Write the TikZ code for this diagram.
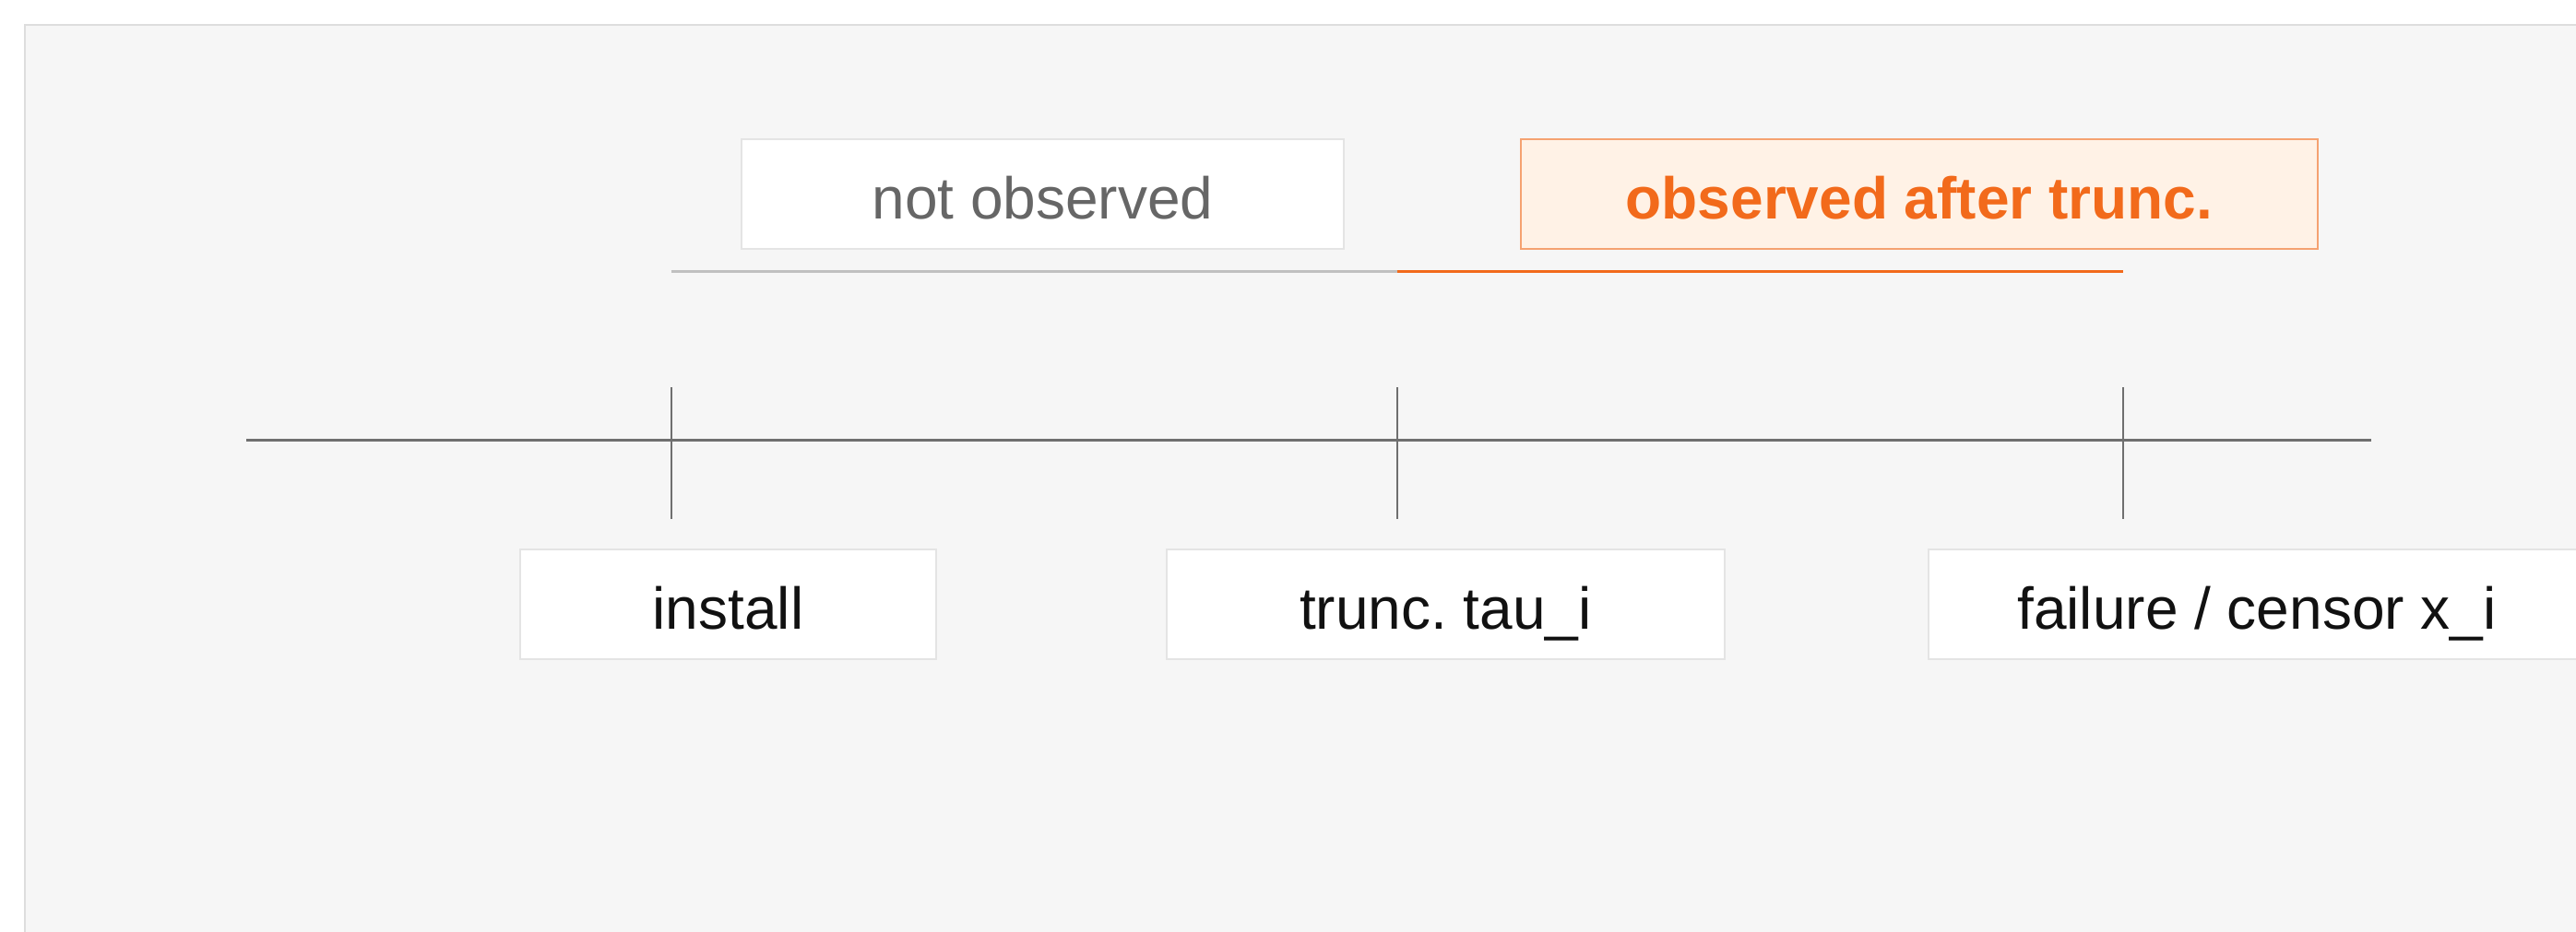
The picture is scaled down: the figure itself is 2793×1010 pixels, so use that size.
\documentclass[tikz,border=0pt]{standalone}
\usepackage{fontspec}
\setmainfont{Liberation Sans}
\frenchspacing
\definecolor{bgfill}{HTML}{F6F6F6}
\definecolor{bgline}{HTML}{DDDDDD}
\definecolor{boxline}{HTML}{E4E4E4}
\definecolor{axisgray}{HTML}{6F6F6F}
\definecolor{rangegray}{HTML}{C0C0C0}
\definecolor{orangetxt}{HTML}{F26A1B}
\definecolor{orangefill}{HTML}{FFF2E6}
\definecolor{orangeline}{HTML}{F5A271}
\definecolor{darktxt}{HTML}{111111}
\definecolor{midtxt}{HTML}{666666}
\begin{document}
\begin{tikzpicture}[x=1pt,y=-1pt,
  lbl/.style={draw=boxline, line width=2pt, fill=white, inner sep=0pt,
    minimum height=119pt, text height=53pt, text depth=0pt,
    font=\fontsize{64}{77}\selectfont\frenchspacing, text=darktxt},
  obsbox/.style={lbl, draw=orangeline, fill=orangefill, text=orangetxt,
    font=\fontsize{64}{77}\selectfont\bfseries},
  axisline/.style={draw=axisgray, line width=3pt},
  tickline/.style={draw=axisgray, line width=2pt},
  rangeline/.style={line width=3.5pt}]
\useasboundingbox (0,0) rectangle (2793,1010);
\clip (0,0) rectangle (2793,1010);
\fill[white] (0,0) rectangle (2793,1010);
\draw[draw=bgline, fill=bgfill, line width=2pt] (27,27) rectangle (2900,1100);

% axis
\coordinate (axL) at (267,477.5);
\coordinate (axR) at (2571,477.5);
\draw[axisline] (axL) -- (axR);

% ticks
\coordinate (t1top) at (727.5,420);
\coordinate (t1bot) at (727.5,563);
\coordinate (t2top) at (1514.5,420);
\coordinate (t2bot) at (1514.5,563);
\coordinate (t3top) at (2302,420);
\coordinate (t3bot) at (2302,563);
\draw[tickline] (t1top) -- (t1bot);
\draw[tickline] (t2top) -- (t2bot);
\draw[tickline] (t3top) -- (t3bot);

% ranges
\coordinate (r1) at (727.5,294.5);
\coordinate (r2) at (1514.5,294.5);
\coordinate (r3) at (2302,294.5);
\draw[rangeline, draw=rangegray] (r1) -- (r2);
\draw[rangeline, draw=orangetxt] (r2) -- (r3);

% top labels
\node[lbl, text=midtxt, minimum width=653pt] (nobs) at (1130.5,210.5) {not observed};
\node[obsbox, minimum width=864pt] (obs) at (2081,210.5) {observed after trunc.};

% bottom labels
\node[lbl, minimum width=451pt] (install) at (789.5,655.5) {install};
\node[lbl, minimum width=605pt] (trunc) at (1567.5,655.5) {trunc. tau\_i};
\node[lbl, minimum width=712pt] (fail) at (2447,655.5) {failure / censor x\_i};
\end{tikzpicture}
\end{document}
